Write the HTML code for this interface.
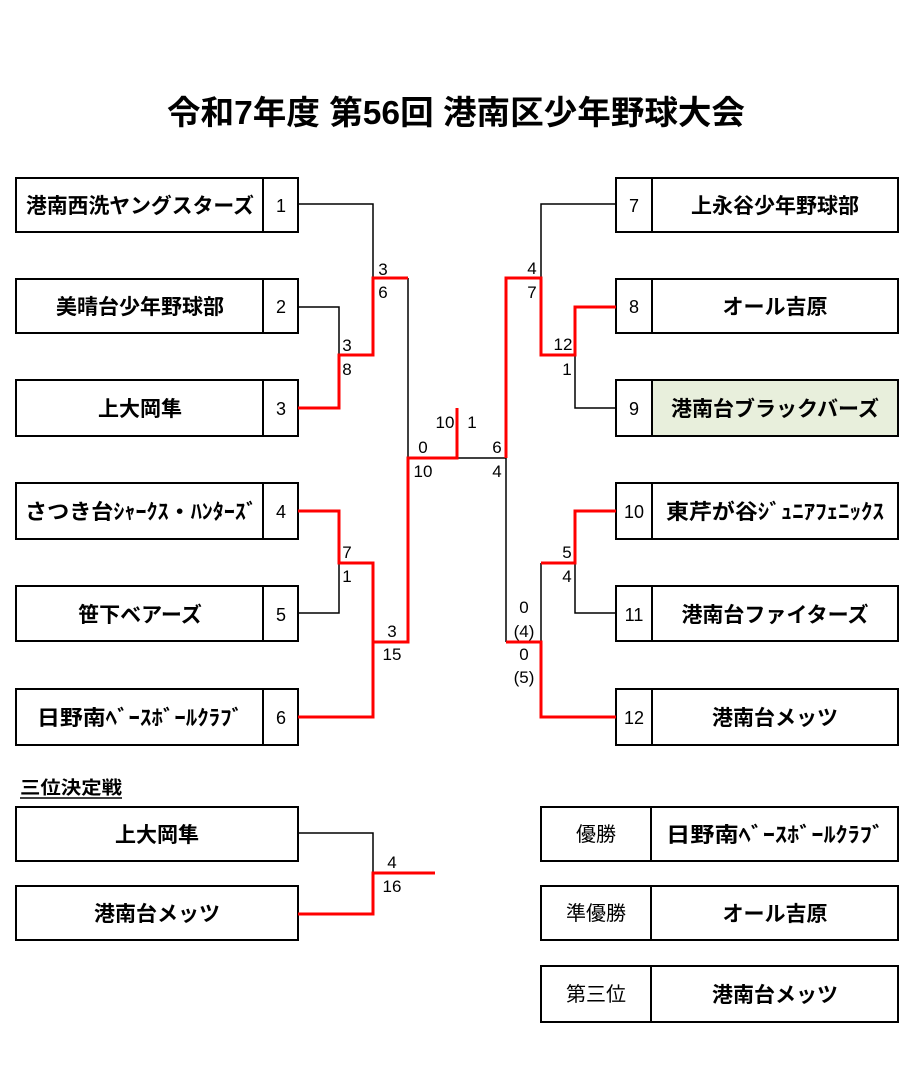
<!DOCTYPE html>
<html><head><meta charset="utf-8"><style>
html,body{margin:0;padding:0;background:#fff;}
svg{display:block;}
text{font-family:"Liberation Sans","Noto Sans CJK JP",sans-serif;fill:#000;}
.n{font-size:21px;font-weight:bold;}
.d{font-size:18px;}
.s{font-size:17px;}
</style></head><body>
<svg width="922" height="1092" xmlns="http://www.w3.org/2000/svg">
<text x="167" y="124" textLength="578" lengthAdjust="spacingAndGlyphs" style="font-size:33px;font-weight:bold;font-family:'Liberation Sans','Noto Sans CJK JP',sans-serif">令和7年度 第56回 港南区少年野球大会</text>

<g fill="#fff" stroke="#000" stroke-width="2">
<rect x="16" y="178" width="282" height="54"/><line x1="263" y1="178" x2="263" y2="232"/>
<rect x="16" y="279" width="282" height="54"/><line x1="263" y1="279" x2="263" y2="333"/>
<rect x="16" y="380" width="282" height="56"/><line x1="263" y1="380" x2="263" y2="436"/>
<rect x="16" y="483" width="282" height="56"/><line x1="263" y1="483" x2="263" y2="539"/>
<rect x="16" y="586" width="282" height="55"/><line x1="263" y1="586" x2="263" y2="641"/>
<rect x="16" y="689" width="282" height="56"/><line x1="263" y1="689" x2="263" y2="745"/>

<rect x="616" y="178" width="282" height="54"/><line x1="652" y1="178" x2="652" y2="232"/>
<rect x="616" y="279" width="282" height="54"/><line x1="652" y1="279" x2="652" y2="333"/>
<rect x="616" y="380" width="282" height="56"/><rect x="652" y="380" width="246" height="56" fill="#e8efdc"/>
<rect x="616" y="483" width="282" height="56"/><line x1="652" y1="483" x2="652" y2="539"/>
<rect x="616" y="586" width="282" height="55"/><line x1="652" y1="586" x2="652" y2="641"/>
<rect x="616" y="689" width="282" height="56"/><line x1="652" y1="689" x2="652" y2="745"/>

<rect x="16" y="807" width="282" height="54"/>
<rect x="16" y="886" width="282" height="54"/>

<rect x="541" y="807" width="357" height="54"/><line x1="651" y1="807" x2="651" y2="861"/>
<rect x="541" y="886" width="357" height="54"/><line x1="651" y1="886" x2="651" y2="940"/>
<rect x="541" y="966" width="357" height="56"/><line x1="651" y1="966" x2="651" y2="1022"/>
</g>

<g fill="none" stroke="#000" stroke-width="1.5">
<polyline points="298,204 373,204 373,278"/>
<polyline points="408,278 408,458"/>
<polyline points="298,307 339,307 339,355"/>
<polyline points="457,458 506,458"/>
<polyline points="616,204 541,204 541,278"/>
<polyline points="575,355 575,408 616,408"/>
<polyline points="298,613 339,613 339,563"/>
<polyline points="506,458 506,642"/>
<polyline points="541,642 541,563"/>
<polyline points="575,563 575,613 616,613"/>
<polyline points="298,833 373,833 373,873"/>
</g>
<g fill="none" stroke="#f00" stroke-width="3">
<polyline points="298,408 339,408 339,355 373,355 373,278 408,278"/>
<polyline points="298,511 339,511 339,563 373,563 373,717 298,717"/>
<polyline points="373,642 408,642 408,458 457,458 457,408"/>
<polyline points="616,307 575,307 575,355 541,355 541,278 506,278 506,458"/>
<polyline points="616,511 575,511 575,563 541,563"/>
<polyline points="506,642 541,642 541,717 616,717"/>
<polyline points="298,914 373,914 373,873 435,873"/>
</g>

<g text-anchor="middle">
<text x="140" y="213" class="n" textLength="228" lengthAdjust="spacingAndGlyphs">港南西洗ヤングスターズ</text>
<text x="140" y="314" class="n">美晴台少年野球部</text>
<text x="140" y="416" class="n">上大岡隼</text>
<text x="141" y="519" class="n" textLength="232" lengthAdjust="spacingAndGlyphs">さつき台ｼｬｰｸｽ・ﾊﾝﾀｰｽﾞ</text>
<text x="140" y="622" class="n">笹下ベアーズ</text>
<text x="140" y="725" class="n" textLength="206" lengthAdjust="spacingAndGlyphs">日野南ﾍﾞｰｽﾎﾞｰﾙｸﾗﾌﾞ</text>

<text x="775" y="213" class="n">上永谷少年野球部</text>
<text x="775" y="314" class="n">オール吉原</text>
<text x="775" y="416" class="n">港南台ブラックバーズ</text>
<text x="775" y="519" class="n" textLength="218" lengthAdjust="spacingAndGlyphs">東芹が谷ｼﾞｭﾆｱﾌｪﾆｯｸｽ</text>
<text x="775" y="622" class="n">港南台ファイターズ</text>
<text x="775" y="725" class="n">港南台メッツ</text>

<text x="157" y="842" class="n">上大岡隼</text>
<text x="157" y="921" class="n">港南台メッツ</text>

<text x="775" y="842" class="n" textLength="218" lengthAdjust="spacingAndGlyphs">日野南ﾍﾞｰｽﾎﾞｰﾙｸﾗﾌﾞ</text>
<text x="775" y="921" class="n">オール吉原</text>
<text x="775" y="1002" class="n">港南台メッツ</text>
</g>
<g text-anchor="middle" style="font-size:20px">
<text x="596" y="841">優勝</text>
<text x="596" y="920">準優勝</text>
<text x="596" y="1001">第三位</text>
</g>

<g class="d" text-anchor="middle">
<text x="281" y="212">1</text><text x="281" y="313">2</text><text x="281" y="415">3</text>
<text x="281" y="518">4</text><text x="281" y="621">5</text><text x="281" y="724">6</text>
<text x="634" y="212">7</text><text x="634" y="313">8</text><text x="634" y="415">9</text>
<text x="634" y="518">10</text><text x="634" y="621">11</text><text x="634" y="724">12</text>
</g>

<g class="s" text-anchor="middle">
<text x="383" y="275">3</text><text x="383" y="298">6</text>
<text x="347" y="351">3</text><text x="347" y="375">8</text>
<text x="445" y="428">10</text><text x="472" y="428">1</text>
<text x="423" y="453">0</text><text x="423" y="477">10</text>
<text x="497" y="453">6</text><text x="497" y="477">4</text>
<text x="532" y="274">4</text><text x="532" y="298">7</text>
<text x="563" y="350">12</text><text x="567" y="375">1</text>
<text x="347" y="558">7</text><text x="347" y="582">1</text>
<text x="392" y="637">3</text><text x="392" y="660">15</text>
<text x="567" y="558">5</text><text x="567" y="582">4</text>
<text x="524" y="613">0</text><text x="524" y="637">(4)</text>
<text x="524" y="660">0</text><text x="524" y="683">(5)</text>
<text x="392" y="868">4</text><text x="392" y="892">16</text>
</g>

<text x="20" y="794" style="font-size:18px;font-weight:bold" textLength="102" lengthAdjust="spacingAndGlyphs">三位決定戦</text>
<line x1="20" y1="798" x2="122" y2="798" stroke="#000" stroke-width="1.5"/>
</svg>
</body></html>
